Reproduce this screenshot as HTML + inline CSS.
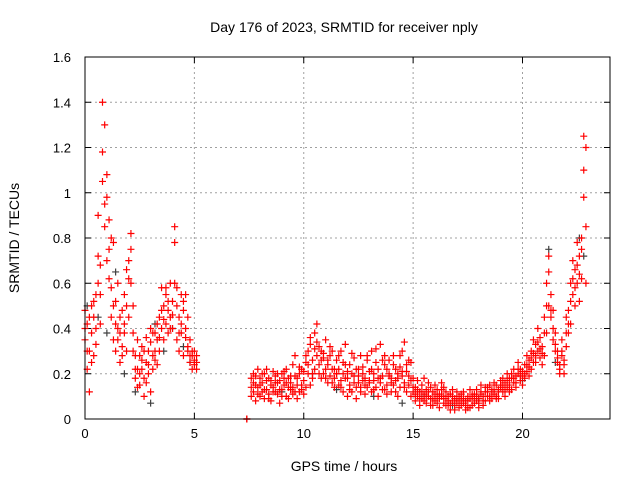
<!DOCTYPE html>
<html><head><meta charset="utf-8"><style>
html,body{margin:0;padding:0;background:#fff;}
svg{display:block;font-family:"Liberation Sans",sans-serif;}
</style></head><body>
<svg id="chart" width="640" height="480" viewBox="0 0 640 480"></svg>
<script>
const xTicks=[0,5,10,15,20];
const yTicks=[0,0.2,0.4,0.6,0.8,1,1.2,1.4,1.6];
const yTickLabels=["0","0.2","0.4","0.6","0.8","1","1.2","1.4","1.6"];
const hours=[0.0,0.1,0.2,0.3,0.4,0.5,0.6,0.7,0.8,0.9,1.0,1.1,1.2,1.3,1.4,1.5,1.6,1.7,1.8,1.9,2.0,2.1,2.2,2.3,2.4,2.5,2.6,2.7,2.8,2.9,3.0,3.1,3.2,3.3,3.4,3.5,3.6,3.7,3.8,3.9,4.0,4.1,4.2,4.3,4.4,4.5,4.6,4.7,4.8,4.9,5.0,5.1,
7.4,7.6,7.7,7.8,7.9,8.0,8.1,8.2,8.3,8.4,8.5,8.6,8.7,8.8,8.9,9.0,9.1,9.2,9.3,9.4,9.5,9.6,9.7,9.8,9.9,10.0,10.1,10.2,10.3,10.4,10.5,10.6,10.7,10.8,10.9,11.0,11.1,11.2,11.3,11.4,11.5,11.6,11.7,11.8,11.9,12.0,12.1,12.2,12.3,12.4,12.5,12.6,12.7,12.8,12.9,13.0,13.1,13.2,13.3,13.4,13.5,13.6,13.7,13.8,13.9,14.0,14.1,14.2,14.3,14.4,14.5,14.6,14.7,14.8,14.9,15.0,
15.1,15.2,15.3,15.4,15.5,15.6,15.7,15.8,15.9,16.0,16.1,16.2,16.3,16.4,16.5,16.6,16.7,16.8,16.9,17.0,17.1,17.2,17.3,17.4,17.5,17.6,17.7,17.8,17.9,18.0,18.1,18.2,18.3,18.4,18.5,18.6,18.7,18.8,18.9,19.0,
19.1,19.2,19.3,19.4,19.5,19.6,19.7,19.8,19.9,20.0,20.1,20.2,20.3,20.4,20.5,20.6,20.7,20.8,20.9,21.0,21.1,21.2,21.3,21.4,21.5,21.6,21.7,21.8,21.9,22.0,22.1,22.2,22.3,22.4,22.5,22.6,22.7,22.8,22.9];
const tecuA=[.35,.42,.30,.50,.28,.55,.72,.68,1.40,1.30,1.08,.62,.45,.78,.52,.60,.38,.48,.42,.30,.70,.82,.50,.28,.35,.15,.22,.18,.25,.30,.12,.22,.38,.35,.45,.58,.50,.42,.48,.60,.52,.85,.58,.45,.55,.48,.40,.30,.25,.28,.30,.22,
0.0,.18,.12,.15,.22,.10,.16,.20,.13,.18,.08,.14,.19,.11,.17,.13,.21,.16,.09,.19,.14,.28,.18,.12,.22,.17,.25,.20,.33,.18,.38,.42,.24,.30,.20,.35,.16,.28,.22,.18,.26,.15,.30,.20,.33,.18,.24,.12,.19,.14,.22,.28,.17,.11,.26,.16,.30,.20,.14,.22,.33,.19,.24,.15,.20,.12,.28,.17,.10,.23,.19,.34,.21,.15,.25,.12,
.14,.10,.06,.15,.11,.07,.16,.09,.12,.08,.13,.05,.10,.14,.09,.06,.11,.08,.04,.07,.10,.06,.12,.08,.05,.09,.11,.07,.13,.09,.12,.06,.14,.10,.08,.13,.11,.15,.09,.14,
.12,.16,.20,.15,.18,.22,.14,.20,.17,.19,.24,.21,.26,.30,.25,.33,.40,.36,.32,.45,.60,.72,.55,.48,.38,.30,.24,.28,.20,.32,.48,.60,.70,.66,.78,.72,.80,1.25,1.20];
const tecuB=[.48,.22,.12,.38,.45,.33,.90,.42,1.18,.85,.98,.88,.80,.35,.30,.40,.25,.32,.55,.66,.45,.60,.38,.18,.22,.28,.32,.10,.36,.20,.40,.28,.30,.24,.30,.40,.35,.55,.38,.45,.40,.78,.35,.30,.38,.28,.55,.45,.35,.22,.24,.25,
0.0,.10,.20,.08,.14,.18,.12,.09,.17,.11,.15,.21,.12,.16,.07,.20,.15,.10,.18,.13,.24,.12,.09,.20,.15,.11,.14,.30,.15,.26,.22,.28,.32,.18,.27,.22,.26,.19,.30,.14,.20,.22,.17,.12,.24,.10,.15,.20,.27,.09,.16,.12,.23,.18,.14,.21,.12,.17,.25,.10,.18,.13,.28,.11,.26,.18,.15,.22,.20,.14,.30,.16,.12,.26,.10,.18,
.08,.17,.12,.09,.18,.13,.10,.14,.06,.15,.10,.11,.16,.07,.12,.10,.04,.13,.09,.12,.05,.09,.07,.04,.10,.13,.06,.10,.08,.05,.15,.10,.08,.12,.15,.09,.16,.10,.13,.17,
.18,.10,.14,.18,.13,.16,.19,.25,.22,.15,.18,.28,.19,.22,.35,.28,.30,.27,.24,.28,.38,.50,.45,.40,.30,.25,.20,.35,.26,.45,.38,.42,.55,.50,.60,.52,.62,.98,.60];
const tecuC=[.40,.30,.45,.25,.52,.40,.60,.55,1.05,.95,.70,.75,.58,.50,.42,.35,.45,.28,.38,.50,.62,.75,.30,.22,.14,.20,.26,.30,.16,.24,.34,.38,.26,.42,.36,.48,.44,.58,.52,.40,.46,.60,.50,.38,.42,.52,.36,.32,.28,.30,.26,.28,
0.0,.14,.16,.19,.11,.15,.20,.13,.22,.09,.17,.12,.16,.20,.13,.10,.18,.22,.14,.16,.11,.19,.15,.23,.13,.21,.28,.24,.36,.20,.31,.34,.20,.26,.29,.18,.24,.32,.16,.22,.20,.28,.14,.25,.18,.21,.13,.29,.16,.22,.19,.14,.20,.15,.28,.17,.22,.13,.31,.18,.16,.26,.13,.22,.19,.16,.24,.12,.18,.28,.21,.14,.24,.19,.17,.14,
.11,.13,.09,.12,.08,.10,.12,.06,.09,.11,.07,.09,.13,.10,.06,.08,.07,.10,.06,.09,.08,.11,.09,.06,.08,.05,.09,.11,.10,.07,.11,.08,.12,.14,.10,.12,.13,.09,.12,.15,
.15,.13,.17,.12,.20,.18,.16,.22,.19,.21,.20,.24,.23,.27,.29,.25,.34,.31,.29,.38,.50,.65,.48,.35,.33,.27,.22,.30,.24,.38,.42,.52,.62,.58,.68,.64,.75,1.10,.85];
const darkHours=[0.1,0.6,1.0,1.4,1.8,2.3,3.0,3.2,3.6,4.0,4.5,4.8,9.0,10.4,11.5,13.2,14.5,15.5,16.8,18.0,20.0,21.2,21.5,22.6,22.8];
const darkTecu=[.50,.45,.38,.65,.20,.12,.07,.42,.30,.40,.32,.25,.12,.20,.13,.10,.07,.10,.06,.09,.17,.75,.25,.80,.72];

const NS="http://www.w3.org/2000/svg";
const svg=document.getElementById('chart');
const L=85,R=610,T=57,B=419;
const xs=h=>L+h/24*(R-L);
const ys=v=>B-v/1.6*(B-T);
function el(tag,attrs,parent){const e=document.createElementNS(NS,tag);for(const k in attrs)e.setAttribute(k,attrs[k]);(parent||svg).appendChild(e);return e;}

const grid=el('g',{});


xTicks.forEach(t=>{const x=xs(t);
 if(t>0){el('line',{x1:x,y1:T,x2:x,y2:B,stroke:'#a0a0a0','stroke-width':1,'stroke-dasharray':'2,3'},grid);}
 const tk=el('line',{x1:x,y1:B,x2:x,y2:B-6,stroke:'#000'});
 
 
 el('line',{x1:x,y1:T,x2:x,y2:T+6,stroke:'#000'});
 const lb=el('text',{x:x,y:B+19,'text-anchor':'middle','font-size':13,fill:'#000'});lb.textContent=t;
 
 
});
yTicks.forEach((t,i)=>{const y=ys(t);
 if(t>0&&t<1.6){el('line',{x1:L,y1:y,x2:R,y2:y,stroke:'#a0a0a0','stroke-width':1,'stroke-dasharray':'2,3'},grid);}
 el('line',{x1:L,y1:y,x2:L+6,y2:y,stroke:'#000'});
 el('line',{x1:R,y1:y,x2:R-6,y2:y,stroke:'#000'});
 const lb=el('text',{x:L-14,y:y+5,'text-anchor':'end','font-size':13,fill:'#000'});lb.textContent=yTickLabels[i];
 
 
});

function plus(h,v,color,parent){const x=xs(h),y=ys(v);
 return el('path',{d:`M${x-3.5},${y}H${x+3.5}M${x},${y-3.5}V${y+3.5}`,stroke:color,'stroke-width':1.2,fill:'none'},parent);}
const dark=el('g',{});


darkHours.forEach((h,i)=>{const p=plus(h,darkTecu[i],'#404040',dark);
 
 });
const red=el('g',{});


hours.forEach((h,i)=>{
 [tecuA[i],tecuB[i],tecuC[i]].forEach(v=>{
  const p=plus(h,v,'#ff0000',red);
  
  
 });
});

const frame=el('rect',{x:L,y:T,width:R-L,height:B-T,fill:'none',stroke:'#000','stroke-width':1});



const title=el('text',{x:344,y:32,'text-anchor':'middle','font-size':14,fill:'#000'});
title.textContent='Day 176 of 2023, SRMTID for receiver nply';


const xt=el('text',{x:344,y:471,'text-anchor':'middle','font-size':14,fill:'#000'});
xt.textContent='GPS time / hours';


const yt=el('text',{x:19,y:238,'text-anchor':'middle','font-size':14,fill:'#000',transform:'rotate(-90 19 238)'});
yt.textContent='SRMTID / TECUs';


</script>
</body></html>
